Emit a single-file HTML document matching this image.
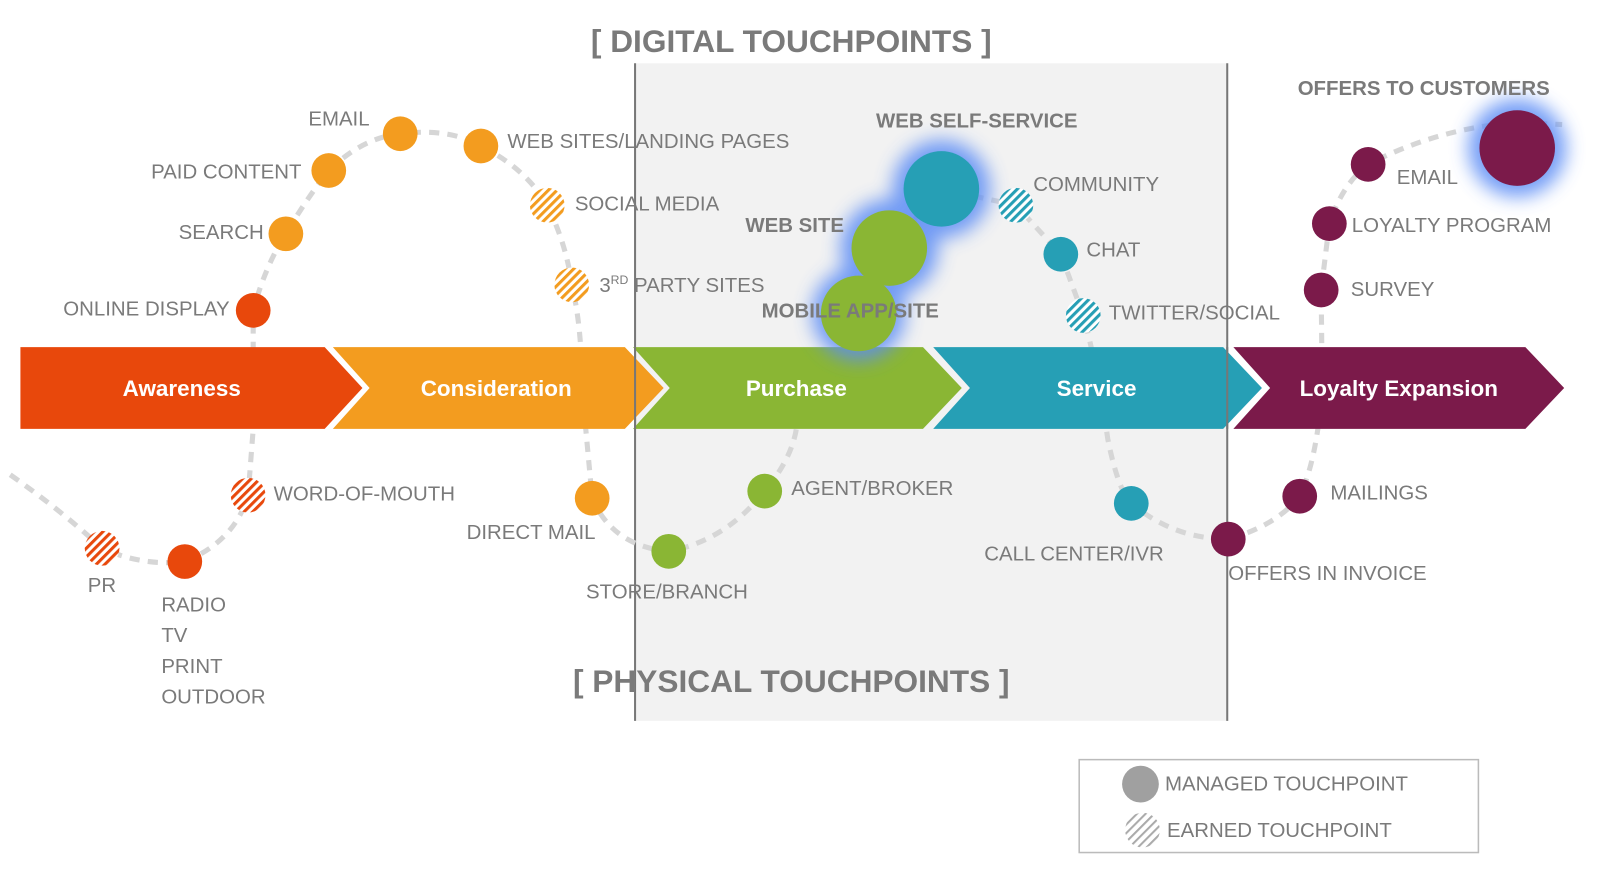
<!DOCTYPE html>
<html><head><meta charset="utf-8"><style>
html,body{margin:0;padding:0;background:#fff;}
svg{display:block;}
text{font-family:"Liberation Sans",sans-serif;fill:#7a7a7a;font-size:20px;}
.b{font-weight:bold;}
.w{fill:#fff;font-weight:bold;font-size:22px;}
</style></head><body>
<svg width="1600" height="876" viewBox="0 0 1600 876" xmlns="http://www.w3.org/2000/svg">
<defs>
<pattern id="ho" patternUnits="userSpaceOnUse" width="6" height="6" patternTransform="rotate(45)"><rect width="6" height="6" fill="#fff"/><rect width="3" height="6" fill="#f39c1f"/></pattern>
<pattern id="hr" patternUnits="userSpaceOnUse" width="6" height="6" patternTransform="rotate(45)"><rect width="6" height="6" fill="#fff"/><rect width="3" height="6" fill="#e8480c"/></pattern>
<pattern id="ht" patternUnits="userSpaceOnUse" width="6" height="6" patternTransform="rotate(45)"><rect width="6" height="6" fill="#fff"/><rect width="3" height="6" fill="#269fb5"/></pattern>
<pattern id="hg" patternUnits="userSpaceOnUse" width="6" height="6" patternTransform="rotate(45)"><rect width="6" height="6" fill="#fff"/><rect width="2" height="6" fill="#aaa"/></pattern>
<filter id="gl" x="-50%" y="-50%" width="200%" height="200%"><feGaussianBlur stdDeviation="9"/></filter>
</defs>
<g transform="scale(1.021)">
<rect x="622" y="62" width="580" height="644" fill="#f2f2f2"/>
<line x1="622" y1="62" x2="622" y2="706" stroke="#777" stroke-width="2"/>
<line x1="1202" y1="62" x2="1202" y2="706" stroke="#777" stroke-width="2"/>
<text x="775" y="51" text-anchor="middle" class="b" style="font-size:31px">[ DIGITAL TOUCHPOINTS ]</text>
<text x="775" y="678" text-anchor="middle" class="b" style="font-size:31px">[ PHYSICAL TOUCHPOINTS ]</text>
<g fill="none" stroke="#d6d6d6" stroke-width="5" stroke-dasharray="10 8">
<path d="M10 465 Q60 500 100 537 Q140 555 181 550 Q230 530 243 485 L248 420 L248 340 L248 304 Q260 260 280 229 Q300 195 322 167 Q355 135 392 131 Q440 125 471 143 Q515 165 536 201 Q555 240 560 279 Q570 320 570 380 L580 488 Q600 535 655 540 Q710 530 749 481 Q775 450 780 420"/>
<path d="M841 307 L871 243 L922 185 L995 201 L1039 249 L1061 309 Q1075 360 1085 430 Q1095 480 1108 493 Q1150 528 1203 528 Q1250 515 1273 486 Q1290 450 1295 380 L1294 284 L1302 219 Q1315 180 1340 161 Q1410 125 1486 120 L1530 122"/>
</g>
<polygon points="20,340 318,340 355,380 318,420 20,420" fill="#e8480c"/>
<polygon points="326,340 612,340 650,380 612,420 326,420 362,380" fill="#f39c1f"/>
<polygon points="620,340 904,340 942,380 904,420 620,420 656,380" fill="#8ab634"/>
<polygon points="914,340 1198,340 1236,380 1198,420 914,420 950,380" fill="#269fb5"/>
<polygon points="1208,340 1494,340 1532,380 1494,420 1208,420 1244,380" fill="#7b1a4a"/>
<line x1="622" y1="340" x2="622" y2="420" stroke="#777" stroke-width="2"/>
<line x1="1202" y1="340" x2="1202" y2="420" stroke="#777" stroke-width="2"/>
<text x="178" y="388" text-anchor="middle" class="w">Awareness</text>
<text x="486" y="388" text-anchor="middle" class="w">Consideration</text>
<text x="780" y="388" text-anchor="middle" class="w">Purchase</text>
<text x="1074" y="388" text-anchor="middle" class="w">Service</text>
<text x="1370" y="388" text-anchor="middle" class="w">Loyalty Expansion</text>
<g fill="#5b8cf5" opacity="0.85" filter="url(#gl)">
<circle cx="922" cy="185" r="48"/><circle cx="871" cy="243" r="48"/><circle cx="841" cy="307" r="46"/><circle cx="1486" cy="145" r="48"/>
</g>
<g fill="#f39c1f"><circle cx="392" cy="131" r="17"/><circle cx="471" cy="143" r="17"/><circle cx="322" cy="167" r="17"/><circle cx="280" cy="229" r="17"/><circle cx="580" cy="488" r="17"/></g>
<g fill="#e8480c"><circle cx="248" cy="304" r="17"/><circle cx="181" cy="550" r="17"/></g>
<circle cx="536" cy="201" r="17" fill="url(#ho)"/><circle cx="560" cy="279" r="17" fill="url(#ho)"/>
<circle cx="243" cy="485" r="17" fill="url(#hr)"/><circle cx="100" cy="537" r="17" fill="url(#hr)"/>
<g fill="#8ab634"><circle cx="841" cy="307" r="37"/><circle cx="871" cy="243" r="37"/><circle cx="749" cy="481" r="17"/><circle cx="655" cy="540" r="17"/></g>
<g fill="#269fb5"><circle cx="922" cy="185" r="37"/><circle cx="1039" cy="249" r="17"/><circle cx="1108" cy="493" r="17"/></g>
<circle cx="995" cy="201" r="17" fill="url(#ht)"/><circle cx="1061" cy="309" r="17" fill="url(#ht)"/>
<g fill="#7b1a4a"><circle cx="1486" cy="145" r="37"/><circle cx="1340" cy="161" r="17"/><circle cx="1302" cy="219" r="17"/><circle cx="1294" cy="284" r="17"/><circle cx="1273" cy="486" r="17"/><circle cx="1203" cy="528" r="17"/></g>
<text x="302" y="123">EMAIL</text>
<text x="497" y="145">WEB SITES/LANDING PAGES</text>
<text x="148" y="175">PAID CONTENT</text>
<text x="175" y="234">SEARCH</text>
<text x="563" y="206">SOCIAL MEDIA</text>
<text x="62" y="309">ONLINE DISPLAY</text>
<text x="587" y="286">3<tspan dy="-8" font-size="12">RD</tspan><tspan dy="8"> PARTY SITES</tspan></text>
<text x="858" y="125" class="b">WEB SELF-SERVICE</text>
<text x="730" y="227" class="b">WEB SITE</text>
<text x="746" y="311" class="b">MOBILE APP/SITE</text>
<text x="1012" y="187">COMMUNITY</text>
<text x="1064" y="251">CHAT</text>
<text x="1086" y="313">TWITTER/SOCIAL</text>
<text x="1271" y="93" class="b">OFFERS TO CUSTOMERS</text>
<text x="1368" y="180">EMAIL</text>
<text x="1324" y="227">LOYALTY PROGRAM</text>
<text x="1323" y="290">SURVEY</text>
<text x="268" y="490">WORD-OF-MOUTH</text>
<text x="86" y="580">PR</text>
<text x="158" y="599">RADIO</text>
<text x="158" y="629">TV</text>
<text x="158" y="659">PRINT</text>
<text x="158" y="689">OUTDOOR</text>
<text x="457" y="528">DIRECT MAIL</text>
<text x="574" y="586">STORE/BRANCH</text>
<text x="775" y="485">AGENT/BROKER</text>
<text x="964" y="549">CALL CENTER/IVR</text>
<text x="1303" y="489">MAILINGS</text>
<text x="1203" y="568">OFFERS IN INVOICE</text>
<rect x="1057" y="744" width="391" height="91" fill="#fff" stroke="#bbb" stroke-width="1.5"/>
<circle cx="1117" cy="768" r="18" fill="#a0a0a0"/>
<circle cx="1119" cy="813" r="17" fill="url(#hg)"/>
<text x="1141" y="774">MANAGED TOUCHPOINT</text>
<text x="1143" y="820">EARNED TOUCHPOINT</text>
</g>
</svg>
</body></html>
